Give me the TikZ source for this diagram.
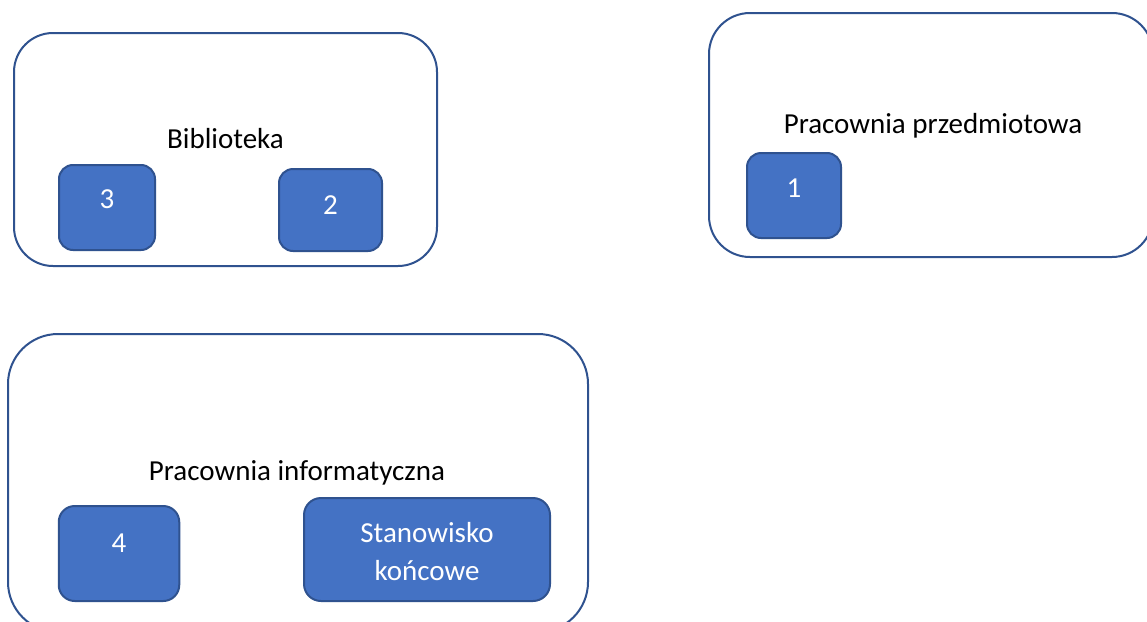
\documentclass[tikz,border=0pt]{standalone}
\usepackage{fontspec}
\setmainfont{Carlito}
\definecolor{fillblue}{HTML}{4472C4}
\definecolor{edgeblue}{HTML}{2F528F}
\begin{document}
\begin{tikzpicture}[x=1pt,y=-1pt,
  room/.style={draw=edgeblue, line width=2pt, fill=white, inner sep=0pt, outer sep=0pt},
  seat/.style={draw=edgeblue, line width=2pt, fill=fillblue, inner sep=0pt, outer sep=0pt},
  lbl/.style={inner sep=0pt, anchor=base, font=\fontsize{29}{35}\selectfont, text=black},
  wlbl/.style={inner sep=0pt, anchor=base, font=\fontsize{29}{35}\selectfont, text=white}]
\useasboundingbox (0,0) rectangle (1147,621);
\clip (0,0) rectangle (1147,621);
% rooms
\node[room, rounded corners=39pt, minimum width=423pt, minimum height=233pt] (bib) at (225.5,149.5) {};
\node[room, rounded corners=41pt, minimum width=444pt, minimum height=244pt] (prz) at (931,135) {};
\node[room, rounded corners=50pt, minimum width=580pt, minimum height=298pt] (inf) at (298,483) {};
% room labels
\node[lbl] (bibT) at (225.5,148) {Biblioteka};
\node[lbl] (przT) at (933,133) {Pracownia przedmiotowa};
\node[lbl] (infT) at (297,480) {Pracownia informatyczna};
% seats
\node[seat, rounded corners=14pt, minimum width=96pt, minimum height=85pt] (s3) at (107,207.5) {};
\node[seat, rounded corners=14pt, minimum width=103pt, minimum height=82pt] (s2) at (330.5,210) {};
\node[seat, rounded corners=14pt, minimum width=94pt, minimum height=85pt] (s1) at (794,195.5) {};
\node[seat, rounded corners=16pt, minimum width=120.5pt, minimum height=95pt] (s4) at (119,553.5) {};
\node[seat, rounded corners=17pt, minimum width=246pt, minimum height=103pt] (st) at (427,549.5) {};
% seat labels
\node[wlbl] (s3T) at (107,208.5) {3};
\node[wlbl] (s2T) at (330.5,214.5) {2};
\node[wlbl] (s1T) at (794,197.5) {1};
\node[wlbl] (s4T) at (119,552.5) {4};
\node[wlbl] (stT1) at (427,542.7) {Stanowisko};
\node[wlbl] (stT2) at (427,580.7) {końcowe};
\end{tikzpicture}
\end{document}
